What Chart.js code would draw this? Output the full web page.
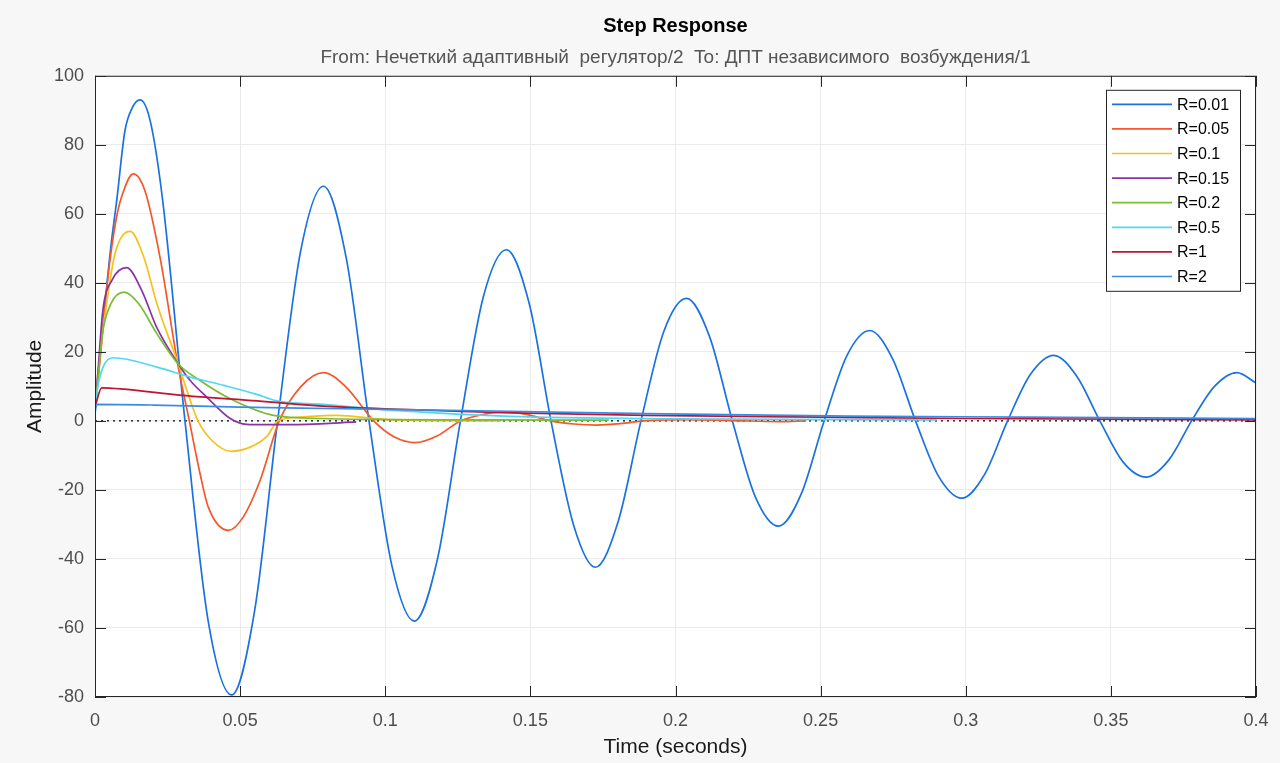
<!DOCTYPE html>
<html>
<head>
<meta charset="utf-8">
<script src="https://cdn.jsdelivr.net/npm/chart.js@4.4.0/dist/chart.umd.min.js"></script>
<style>
  html, body { margin: 0; padding: 0; background: #f7f7f7; }
  canvas { display: block; }
</style>
</head>
<body>
<canvas id="chart" width="1280" height="763"></canvas>
<script>
// axis ticks
const xTicks = [0, 0.05, 0.1, 0.15, 0.2, 0.25, 0.3, 0.35, 0.4];
const xTickLabels = ['0', '0.05', '0.1', '0.15', '0.2', '0.25', '0.3', '0.35', '0.4'];
const yTicks = [-80, -60, -40, -20, 0, 20, 40, 60, 80, 100];
const yTickLabels = ['-80', '-60', '-40', '-20', '0', '20', '40', '60', '80', '100'];

const seriesLabels = ['R=0.01', 'R=0.05', 'R=0.1', 'R=0.15', 'R=0.2', 'R=0.5', 'R=1', 'R=2'];
const seriesColors = ['#1a72e0', '#f4572a', '#f6c11c', '#8a33a6', '#79bd34', '#4fd8f4', '#c01430', '#3a8be6'];

// R=0.01
const tR001 = [0, 0.003, 0.0054, 0.0075, 0.0103, 0.0127, 0.0155, 0.019, 0.0233, 0.031, 0.039, 0.0471, 0.055, 0.0629,
  0.0708, 0.0787, 0.0866, 0.0944, 0.1023, 0.110, 0.118, 0.1259, 0.1338, 0.1417, 0.1496, 0.1571, 0.165, 0.1724,
  0.1803, 0.1881, 0.196, 0.2038, 0.2117, 0.2196, 0.2275, 0.2355, 0.2434, 0.2512, 0.2591, 0.2669, 0.2748, 0.2827,
  0.2906, 0.2986, 0.3065, 0.3144, 0.3223, 0.3303, 0.3382, 0.3462, 0.3541, 0.3621, 0.37, 0.3778, 0.3857, 0.3934, 0.4];
const yR001 = [4, 30, 50, 64, 84, 90.5, 93, 87, 64, 0, -58, -79.4, -55, 0,
  49, 68, 47, 0, -42, -58, -40, 0, 36, 49.6, 34, 0, -30.5, -42.4,
  -29, 0, 26, 35.5, 24.5, 0, -22, -30.5, -21, 0, 19, 26.2, 18, 0,
  -16, -22.4, -15.5, 0, 13.5, 19, 13, 0, -11.8, -16.3, -11.3, 0, 10, 14, 11];

// R=0.05
const tR005 = [0, 0.002, 0.0045, 0.0072, 0.0092, 0.0132, 0.0172, 0.0224, 0.0286, 0.0325, 0.0362, 0.039, 0.046, 0.0511,
  0.0569, 0.0635, 0.071, 0.0787, 0.0865, 0.096, 0.103, 0.1103, 0.118, 0.1259, 0.134, 0.141, 0.149, 0.157, 0.165,
  0.173, 0.181, 0.189, 0.204, 0.22, 0.236, 0.245];
const yR005 = [3, 20, 42, 58, 65, 71.6, 66.7, 47.4, 16, 0, -15.3, -24.9, -31.7, -27.8,
  -17.2, 0, 10, 14, 9.8, 0, -4.6, -6.3, -4.3, 0, 1.9, 2.6, 1.8, 0, -0.9,
  -1.2, -0.8, 0, 0.4, 0.1, -0.2, 0];

// R=0.1
const tR01 = [0, 0.001, 0.004, 0.0069, 0.0121, 0.017, 0.0213, 0.0287, 0.032, 0.0355, 0.0402, 0.0469, 0.0535, 0.0592,
  0.063, 0.072, 0.0833, 0.099, 0.115, 0.14];
const yR01 = [3, 14, 34, 48.5, 54.9, 47, 34, 16.5, 8, 0, -5.6, -8.8, -7.6, -4.5,
  0, 1.2, 1.6, 0.5, 0.1, 0];

// R=0.15
const tR015 = [0, 0.001, 0.0027, 0.006, 0.0109, 0.016, 0.0213, 0.0287, 0.0328, 0.0385, 0.0466, 0.0523, 0.058, 0.073, 0.09];
const yR015 = [3, 14, 32, 41, 44.4, 38, 27, 16.5, 11.7, 6.9, 0.7, -1, -1.1, -1.0, -0.3];

// R=0.2
const tR02 = [0, 0.001, 0.0025, 0.0055, 0.0101, 0.015, 0.0213, 0.0287, 0.0362, 0.0466, 0.0615, 0.0788, 0.1, 0.13, 0.177];
const yR02 = [3, 12, 25, 34, 37.3, 34, 25.3, 16.5, 11.7, 6.4, 1.6, 0.7, 0.4, 0.3, 0.2];

// R=0.5
const tR05 = [0, 0.001, 0.003, 0.0063, 0.0213, 0.0328, 0.0443, 0.0557, 0.0626, 0.0787, 0.1017, 0.143, 0.2, 0.29];
const yR05 = [3, 10, 16, 18.3, 15.6, 12.7, 10.3, 7.7, 5.8, 4.8, 3.1, 1.3, 0.6, 0.3];

// R=1
const tR1 = [0, 0.0023, 0.01, 0.03, 0.056, 0.08, 0.108, 0.14, 0.19, 0.25, 0.3, 0.4];
const yR1 = [4, 9.6, 9.2, 7.4, 5.8, 4.2, 3.3, 2.4, 1.6, 1.1, 0.7, 0.3];

// R=2
const tR2 = [0, 0.0005, 0.02, 0.05, 0.08, 0.143, 0.19, 0.26, 0.32, 0.4];
const yR2 = [2, 4.8, 4.6, 4.0, 3.6, 2.8, 2.1, 1.4, 1.1, 0.65];

const zeroT = [0, 0.4];
const zeroY = [0, 0];

const seriesT = [tR001, tR005, tR01, tR015, tR02, tR05, tR1, tR2];
const seriesY = [yR001, yR005, yR01, yR015, yR02, yR05, yR1, yR2];

const toPoints = (t, y) => t.map((v, i) => ({ x: v, y: y[i] }));

const datasets = seriesLabels.map((label, i) => ({
  label,
  data: toPoints(seriesT[i], seriesY[i]),
  borderColor: seriesColors[i],
  backgroundColor: seriesColors[i],
  borderWidth: 1.7,
  pointRadius: 0,
  cubicInterpolationMode: 'monotone',
  fill: false,
  order: seriesLabels.length - i
}));

datasets.push({
  label: 'zero',
  data: toPoints(zeroT, zeroY),
  borderColor: '#000000',
  borderWidth: 1.2,
  borderDash: [2, 4],
  pointRadius: 0,
  fill: false,
  order: 100
});

const frame = {
  id: 'frame',
  beforeDraw(chart) {
    const { ctx, chartArea: a } = chart;
    ctx.save();
    ctx.fillStyle = '#ffffff';
    ctx.fillRect(a.left, a.top, a.right - a.left, a.bottom - a.top);
    ctx.restore();
  },
  afterDraw(chart) {
    const { ctx, chartArea: a, scales } = chart;
    ctx.save();
    // box and inward ticks
    ctx.strokeStyle = '#262626';
    ctx.lineWidth = 1;
    ctx.strokeRect(a.left + 0.5, a.top + 0.5, a.right - a.left - 1, a.bottom - a.top - 1);
    ctx.beginPath();
    xTicks.forEach(v => {
      const x = Math.round(scales.x.getPixelForValue(v)) + 0.5;
      ctx.moveTo(x, a.bottom); ctx.lineTo(x, a.bottom - 11);
      ctx.moveTo(x, a.top); ctx.lineTo(x, a.top + 11);
    });
    yTicks.forEach(v => {
      const y = Math.round(scales.y.getPixelForValue(v)) + 0.5;
      ctx.moveTo(a.left, y); ctx.lineTo(a.left + 11, y);
      ctx.moveTo(a.right, y); ctx.lineTo(a.right - 11, y);
    });
    ctx.stroke();

    // legend
    const w = 134, h = 201;
    const lx = a.right - 16 - w, ly = a.top + 14;
    ctx.fillStyle = '#ffffff';
    ctx.fillRect(lx, ly, w, h);
    ctx.strokeStyle = '#262626';
    ctx.strokeRect(lx + 0.5, ly + 0.5, w, h);
    ctx.font = '16px "Liberation Sans", Arial, sans-serif';
    ctx.textBaseline = 'middle';
    chart.data.datasets.slice(0, seriesLabels.length).forEach((ds, i) => {
      const y = ly + 14.5 + i * 24.6;
      ctx.strokeStyle = ds.borderColor;
      ctx.lineWidth = 1.7;
      ctx.beginPath();
      ctx.moveTo(lx + 6, y); ctx.lineTo(lx + 66, y);
      ctx.stroke();
      ctx.fillStyle = '#000000';
      ctx.fillText(ds.label, lx + 71, y + 1);
    });
    ctx.restore();
  }
};

new Chart(document.getElementById('chart'), {
  type: 'line',
  data: { datasets },
  plugins: [frame],
  options: {
    responsive: false,
    animation: false,
    layout: { padding: { left: 0, right: 24, top: 0, bottom: 0 } },
    plugins: {
      legend: { display: false },
      tooltip: { enabled: false },
      title: {
        display: true,
        text: 'Step Response',
        fullSize: false,
        color: '#000000',
        font: { family: '"Liberation Sans", Arial, sans-serif', size: 20, weight: 'bold' },
        padding: { top: 14, bottom: 7 }
      },
      subtitle: {
        display: true,
        text: 'From: Нечеткий адаптивный  регулятор/2  To: ДПТ независимого  возбуждения/1',
        fullSize: false,
        color: '#555555',
        font: { family: '"Liberation Sans", Arial, sans-serif', size: 19 },
        padding: { top: 1, bottom: 7 }
      }
    },
    scales: {
      x: {
        type: 'linear',
        min: 0,
        max: 0.4,
        afterFit: s => { s.height = 66; s.paddingLeft = 0; s.paddingRight = 0; },
        afterBuildTicks: s => { s.ticks = xTicks.map(v => ({ value: v })); },
        ticks: {
          padding: 13,
          color: '#4d4d4d',
          font: { family: '"Liberation Sans", Arial, sans-serif', size: 18 },
          maxRotation: 0,
          callback: v => xTickLabels[xTicks.indexOf(v)]
        },
        grid: { color: '#ebebeb', drawTicks: false },
        border: { display: false },
        title: {
          display: true,
          text: 'Time (seconds)',
          color: '#1a1a1a',
          font: { family: '"Liberation Sans", Arial, sans-serif', size: 21 },
          padding: { top: 0, bottom: 3 }
        }
      },
      y: {
        min: -80,
        max: 100,
        afterFit: s => { s.width = 95; },
        afterBuildTicks: s => { s.ticks = yTicks.map(v => ({ value: v })); },
        ticks: {
          padding: 11,
          color: '#4d4d4d',
          font: { family: '"Liberation Sans", Arial, sans-serif', size: 18 },
          callback: v => yTickLabels[yTicks.indexOf(v)]
        },
        grid: { color: '#ebebeb', drawTicks: false },
        border: { display: false },
        title: {
          display: true,
          text: 'Amplitude',
          color: '#1a1a1a',
          font: { family: '"Liberation Sans", Arial, sans-serif', size: 21 },
          padding: { top: 23, bottom: 0 }
        }
      }
    }
  }
});
</script>
</body>
</html>
